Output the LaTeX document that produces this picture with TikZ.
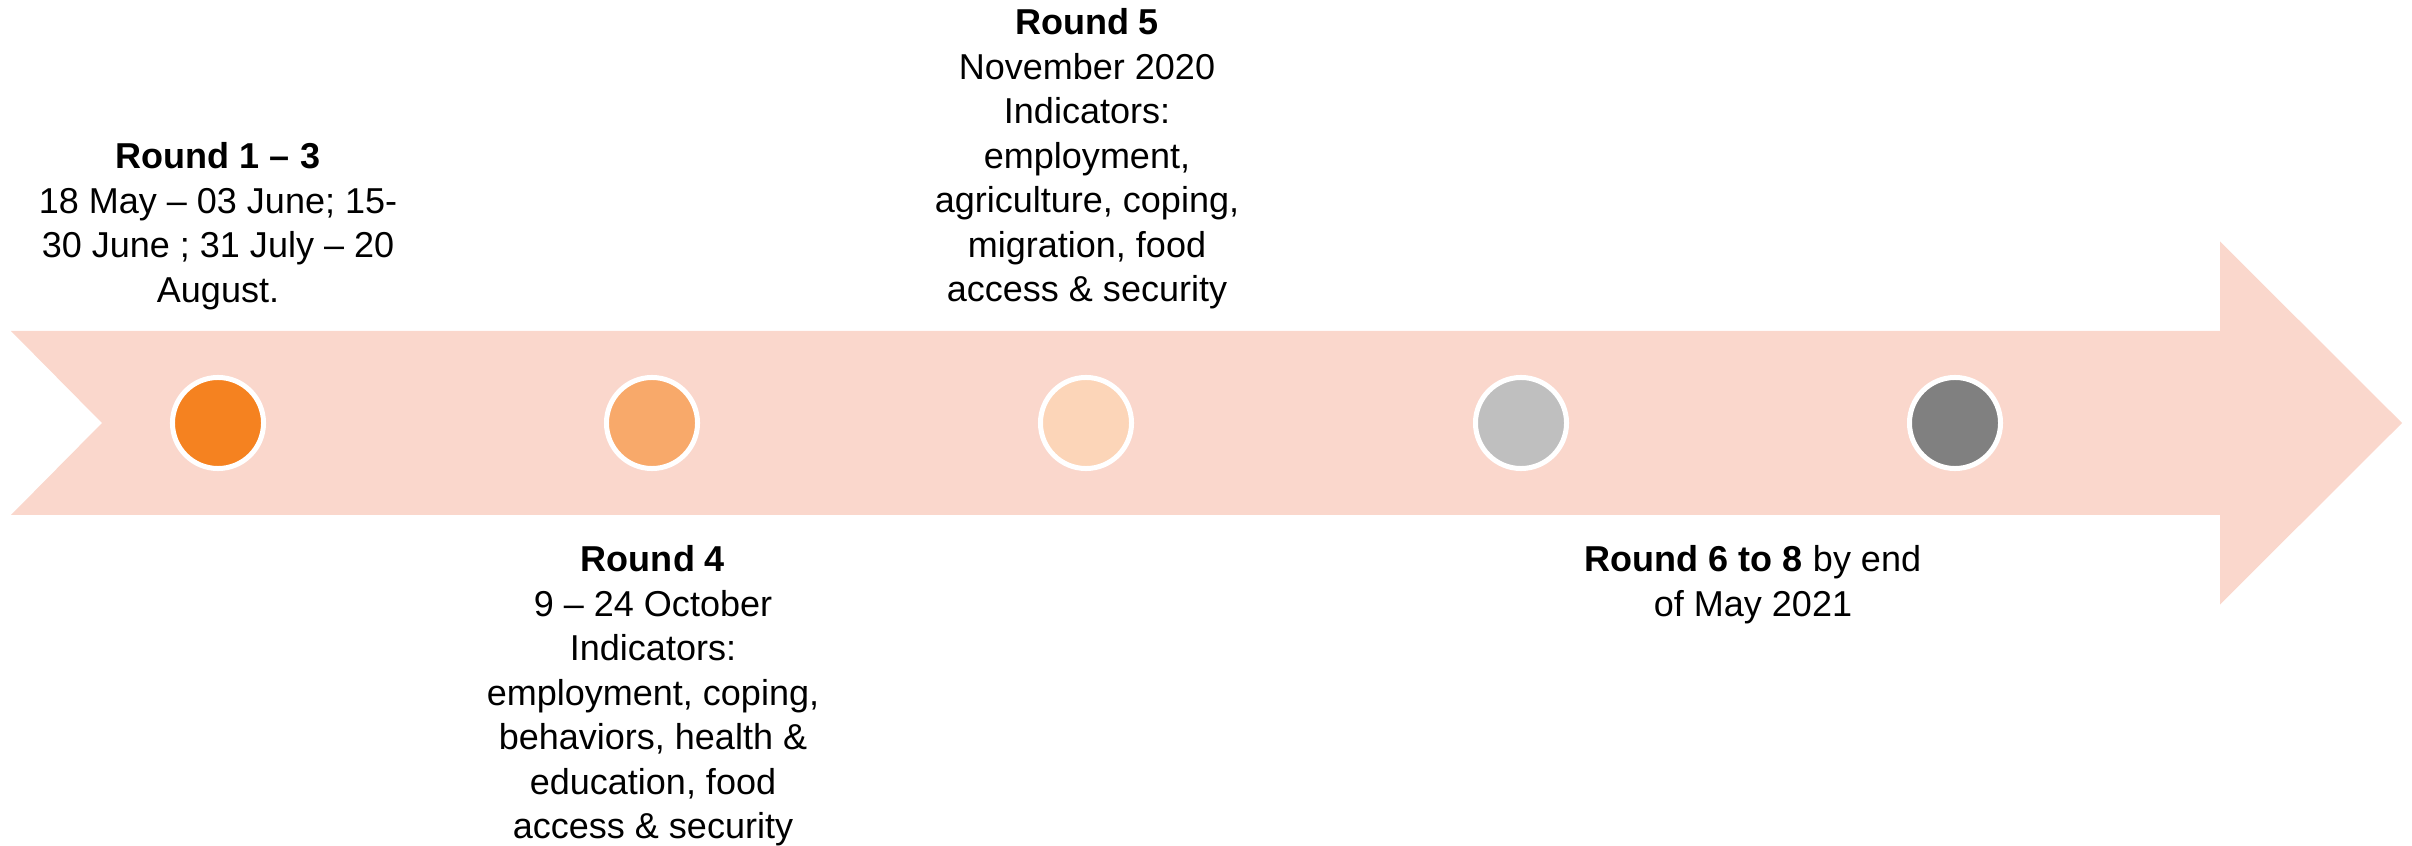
\documentclass[tikz,border=0pt]{standalone}
\usepackage{fontspec}
\setmainfont{Liberation Sans}
\usepackage{tikz}

\definecolor{bandpink}{HTML}{FAD7CC}
\definecolor{dotone}{HTML}{F58220}
\definecolor{dottwo}{HTML}{F8A96A}
\definecolor{dotthree}{HTML}{FCD5B8}
\definecolor{dotfour}{HTML}{BFBFBF}
\definecolor{dotfive}{HTML}{808080}

\begin{document}
\begin{tikzpicture}[x=0.01cm,y=-0.01cm]
		\tikzstyle{every node}+=[inner sep=0pt]
		\tikzstyle{dot}=[circle,draw=white,line width=0.05cm,minimum size=0.91cm]
		\tikzstyle{label}=[anchor=north,align=center,font=\fontsize{10.24pt}{12.66pt}\selectfont]
		\useasboundingbox (0,0) rectangle (2412,846);
		% band with notch and head
		\fill [bandpink] (11,331) -- (2220,331) -- (2220,241.5) -- (2402,423) -- (2220,604.5) -- (2220,515) -- (11,515) -- (102,423) -- cycle;
		% rounds
		\node [dot,fill=dotone] (c1) at (218,423) {};
		\node [dot,fill=dottwo] (c2) at (652,423) {};
		\node [dot,fill=dotthree] (c3) at (1086,423) {};
		\node [dot,fill=dotfour] (c4) at (1521,423) {};
		\node [dot,fill=dotfive] (c5) at (1955,423) {};
		% texts
		\node [label] (r13) at (218,142) {\textbf{Round 1 -- 3}\\18 May -- 03 June; 15-\\30 June ; 31 July -- 20\\August.};
		\node [label] (r5) at (1087,8) {\textbf{Round 5}\\November 2020\\Indicators:\\employment,\\agriculture, coping,\\migration, food\\access \& security};
		\node [label] (r4) at (653,545) {\textbf{Round 4}\\9 -- 24 October\\Indicators:\\employment, coping,\\behaviors, health \&\\education, food\\access \& security};
		\node [label] (r68) at (1753,545) {\textbf{Round 6 to 8} by end\\of May 2021};
	\end{tikzpicture}
\end{document}
